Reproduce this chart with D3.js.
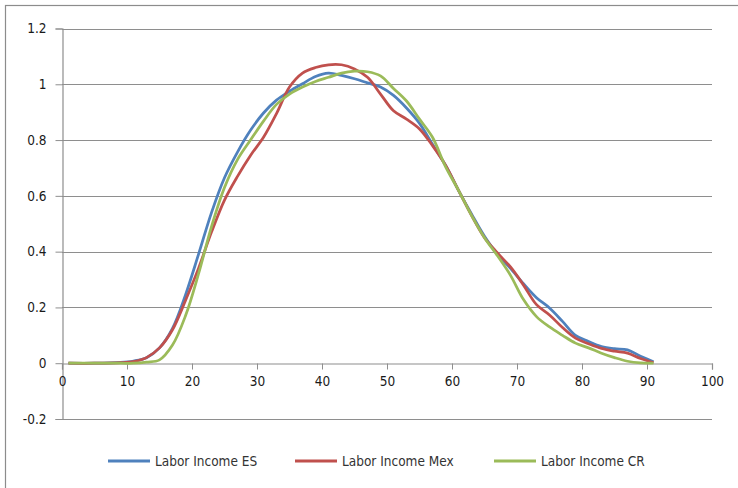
<!DOCTYPE html>
<html>
<head>
<meta charset="utf-8">
<script src="https://cdn.jsdelivr.net/npm/d3@7"></script>
<style>
  html, body { margin: 0; padding: 0; background: #fff; }
  svg { display: block; }
  text { font-family: "Liberation Sans Narrow", "DejaVu Sans Condensed", "Arial Narrow", sans-serif; }
</style>
</head>
<body>
<svg id="chart" width="738" height="488"></svg>
<script>
// Age (years) at which each series is sampled
const ages = [1, 5, 9, 11, 13, 15, 17, 19, 21, 23, 25, 27, 29, 31, 33, 35, 37, 39, 41, 43, 45,
              47, 49, 51, 53, 55, 57, 59, 61, 63, 65, 67, 69, 71, 73, 75, 77, 79, 81, 83, 85, 87, 89, 91];

// Labor income profiles (normalised)
const laborIncomeES = [0, 0, 0.003, 0.008, 0.02, 0.055, 0.125, 0.245, 0.39, 0.54, 0.665, 0.757, 0.835, 0.897, 0.943, 0.975,
                       1.002, 1.028, 1.04, 1.032, 1.02, 1.005, 0.99, 0.96, 0.915, 0.86, 0.785, 0.71, 0.62, 0.535, 0.455,
                       0.39, 0.34, 0.285, 0.235, 0.198, 0.15, 0.1, 0.078, 0.06, 0.052, 0.048, 0.025, 0.005];
const laborIncomeMex = [0, 0, 0.002, 0.006, 0.02, 0.055, 0.12, 0.225, 0.34, 0.47, 0.585, 0.67, 0.745, 0.81, 0.895, 0.99,
                        1.04, 1.06, 1.07, 1.07, 1.055, 1.025, 0.965, 0.905, 0.875, 0.84, 0.78, 0.71, 0.62, 0.53, 0.45,
                        0.395, 0.345, 0.28, 0.21, 0.173, 0.128, 0.09, 0.07, 0.053, 0.043, 0.036, 0.017, 0.002];
const laborIncomeCR = [0, 0, 0, 0, 0.004, 0.012, 0.065, 0.17, 0.32, 0.49, 0.63, 0.73, 0.8, 0.868, 0.928, 0.965,
                       0.99, 1.01, 1.025, 1.04, 1.047, 1.045, 1.03, 0.985, 0.94, 0.875, 0.81, 0.705, 0.62, 0.53, 0.45,
                       0.385, 0.315, 0.228, 0.167, 0.13, 0.1, 0.072, 0.055, 0.036, 0.02, 0.007, 0.001, 0];

const seriesNames = ["Labor Income ES", "Labor Income Mex", "Labor Income CR"];
const seriesColors = ["#4F81BD", "#C0504D", "#9BBB59"];
const xTicks = [0, 10, 20, 30, 40, 50, 60, 70, 80, 90, 100];
const yTicks = [-0.2, 0, 0.2, 0.4, 0.6, 0.8, 1, 1.2];
const yTickLabels = ["-0.2", "0", "0.2", "0.4", "0.6", "0.8", "1", "1.2"];

const series = [laborIncomeES, laborIncomeMex, laborIncomeCR].map((vals, i) => ({
  name: seriesNames[i],
  color: seriesColors[i],
  points: ages.map((a, j) => ({ age: a, value: vals[j] }))
}));

const svg = d3.select("#chart");

// Outer chart frame
svg.append("rect")
  .attr("x", 5.5).attr("y", 5.5)
  .attr("width", 760).attr("height", 520)
  .attr("fill", "#fff")
  .attr("stroke", "#8c8c8c")
  .attr("stroke-width", 1.2);

const plot = { left: 62, right: 712, top: 28.5, bottom: 419 };

const x = d3.scaleLinear().domain([0, 100]).range([plot.left, plot.right]);
const y = d3.scaleLinear().domain([-0.2, 1.2]).range([plot.bottom, plot.top]);

const gridColor = "#8e8e8e";
const labelColor = "#1a1a1a";
const fontStack = "'Liberation Sans Narrow', 'DejaVu Sans Condensed', sans-serif";

// Horizontal gridlines
svg.append("g")
  .selectAll("line")
  .data(yTicks.filter(d => d !== 0))
  .join("line")
  .attr("x1", plot.left).attr("x2", plot.right)
  .attr("y1", d => Math.round(y(d)) + 0.5).attr("y2", d => Math.round(y(d)) + 0.5)
  .attr("stroke", gridColor).attr("stroke-width", 1);

// Y axis
const yAxis = svg.append("g")
  .attr("transform", `translate(${plot.left + 0.5},0)`)
  .call(d3.axisLeft(y).tickValues(yTicks).tickSize(7).tickPadding(9)
    .tickFormat((d, i) => yTickLabels[i]));
yAxis.select(".domain").attr("stroke", gridColor).attr("stroke-width", 1.2);
yAxis.selectAll(".tick line").attr("stroke", gridColor);
yAxis.selectAll(".tick text")
  .attr("fill", labelColor).attr("font-size", 13.5)
  .style("font-family", fontStack);

// X axis at zero
const xAxis = svg.append("g")
  .attr("transform", `translate(0,${Math.round(y(0)) + 0.5})`)
  .call(d3.axisBottom(x).tickValues(xTicks).tickSize(6).tickPadding(7).tickFormat(d3.format("d")));
xAxis.select(".domain").attr("stroke", gridColor).attr("stroke-width", 1.2);
xAxis.selectAll(".tick line").attr("stroke", gridColor);
xAxis.selectAll(".tick text")
  .attr("fill", labelColor).attr("font-size", 13.5)
  .style("font-family", fontStack);

// Smoothed income curves
const line = d3.line()
  .x(d => x(d.age))
  .y(d => y(d.value))
  .curve(d3.curveCatmullRom.alpha(0.5));

svg.append("g")
  .selectAll("path")
  .data(series)
  .join("path")
  .attr("d", d => line(d.points))
  .attr("fill", "none")
  .attr("stroke", d => d.color)
  .attr("stroke-width", 2.75)
  .attr("stroke-linejoin", "round");

// Legend
const legendX = [108, 295, 494];
const legend = svg.append("g")
  .selectAll("g")
  .data(series)
  .join("g")
  .attr("transform", (d, i) => `translate(${legendX[i]},461)`);
legend.append("line")
  .attr("x1", 0).attr("x2", 42).attr("y1", 0).attr("y2", 0)
  .attr("stroke", d => d.color).attr("stroke-width", 3);
legend.append("text")
  .attr("x", 47).attr("y", 0).attr("dy", "0.35em")
  .attr("fill", "#333").attr("font-size", 13.5)
  .text(d => d.name);
</script>
</body>
</html>
